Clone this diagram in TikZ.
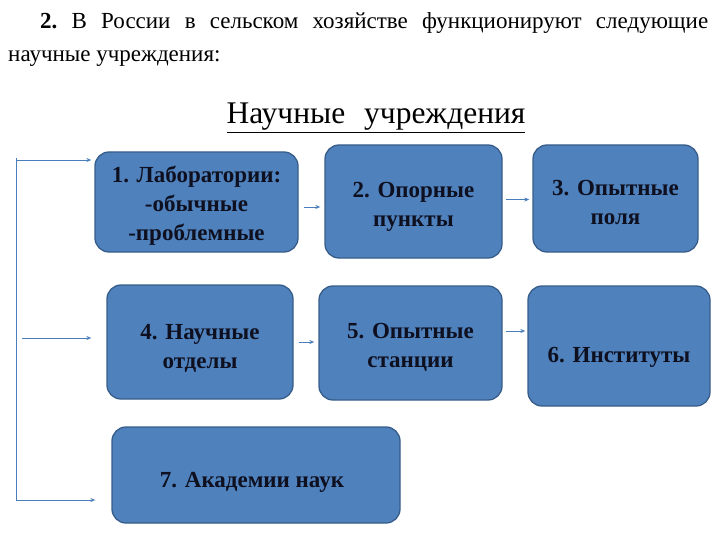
\documentclass[tikz,border=0pt]{standalone}
\usepackage{fontspec}
\newfontfamily\ser{Liberation Serif}
\usetikzlibrary{arrows.meta}
\definecolor{boxfill}{HTML}{4F81BD}
\definecolor{boxline}{HTML}{385D8A}
\definecolor{boxtext}{HTML}{0E1020}
\definecolor{arrcol}{HTML}{4A7EBB}
\tikzset{
  box/.style={draw=boxline, line width=1.3pt, fill=boxfill, rounded corners=14pt, inner sep=0pt},
  boxlabel/.style={text=boxtext, font=\ser\fontsize{23}{29}\selectfont\bfseries, align=center, inner sep=0pt},
  arr/.style={draw=arrcol, line width=0.9pt, -{Stealth[length=5pt,width=4pt]}},
  trunk/.style={draw=arrcol, line width=0.9pt}
}
\begin{document}
\begin{tikzpicture}[x=1pt,y=-1pt]
\useasboundingbox (0,0) rectangle (720,540);
% title
\node[anchor=base west, inner sep=0pt, font=\ser\fontsize{23}{27}\selectfont] (t1) at (40,29)
  {\frenchspacing\makebox[668pt][s]{\textbf{2.} В России в сельском хозяйстве функционируют следующие}};
\node[anchor=base west, inner sep=0pt, font=\ser\fontsize{23}{27}\selectfont] (t2) at (8,62)
  {научные учреждения:};
\node[anchor=base, inner sep=0pt, font=\ser\fontsize{31.5}{35}\selectfont] (head) at (376,124)
  {\underline{Научные\hspace{0.6em}учреждения}};
% boxes
\node[box, minimum width=203pt, minimum height=100pt] (b1) at (196.5,202) {};
\node[box, minimum width=177pt, minimum height=113pt] (b2) at (413.5,201.5) {};
\node[box, minimum width=165pt, minimum height=107pt] (b3) at (615.5,198.5) {};
\node[box, minimum width=186pt, minimum height=114pt] (b4) at (200,342) {};
\node[box, minimum width=183pt, minimum height=114pt] (b5) at (410.5,343) {};
\node[box, minimum width=182pt, minimum height=120pt] (b6) at (619,346) {};
\node[box, minimum width=288pt, minimum height=96pt] (b7) at (256,475) {};
% box texts
\node[boxlabel] (b1t) at ([yshift=-4pt]b1.center) {1. Лаборатории:\\-обычные\\-проблемные};
\node[boxlabel] (b2t) at ([yshift=-5pt]b2.center) {2. Опорные\\пункты};
\node[boxlabel] (b3t) at ([yshift=-4pt]b3.center) {3. Опытные\\поля};
\node[boxlabel] (b4t) at ([yshift=-6pt]b4.center) {4. Научные\\отделы};
\node[boxlabel] (b5t) at ([yshift=-4pt]b5.center) {5. Опытные\\станции};
\node[boxlabel] (b6t) at ([yshift=-11pt]b6.center) {6. Институты};
\node[boxlabel] (b7t) at ([xshift=-4pt,yshift=-7pt]b7.center) {7. Академии наук};
% arrows between boxes
\draw[arr, shorten <=5pt, shorten >=4pt] ([yshift=-5pt]b1.east) -- ([yshift=-5pt]b1.east -| b2.west);
\draw[arr, shorten <=3pt, shorten >=3pt] ([yshift=2pt]b2.east) -- ([yshift=2pt]b2.east -| b3.west);
\draw[arr, shorten <=5pt, shorten >=4pt] (b4.east) -- (b4.east -| b5.west);
\draw[arr, shorten <=3pt, shorten >=2pt] ([yshift=12pt]b5.east) -- ([yshift=12pt]b5.east -| b6.west);
% left trunk
\coordinate (ltop) at (16,158);
\coordinate (lt1) at (16,160);
\coordinate (lt2) at (22,338);
\coordinate (lbot) at (16,500);
\draw[trunk] (ltop) -- (lbot);
\draw[arr, shorten >=3pt] (lt1) -- (lt1 -| b1.west);
\draw[arr, shorten >=15pt] (lt2) -- (lt2 -| b4.west);
\draw[arr, shorten >=16pt] (lbot) -- (lbot -| b7.west);
\end{tikzpicture}
\end{document}
